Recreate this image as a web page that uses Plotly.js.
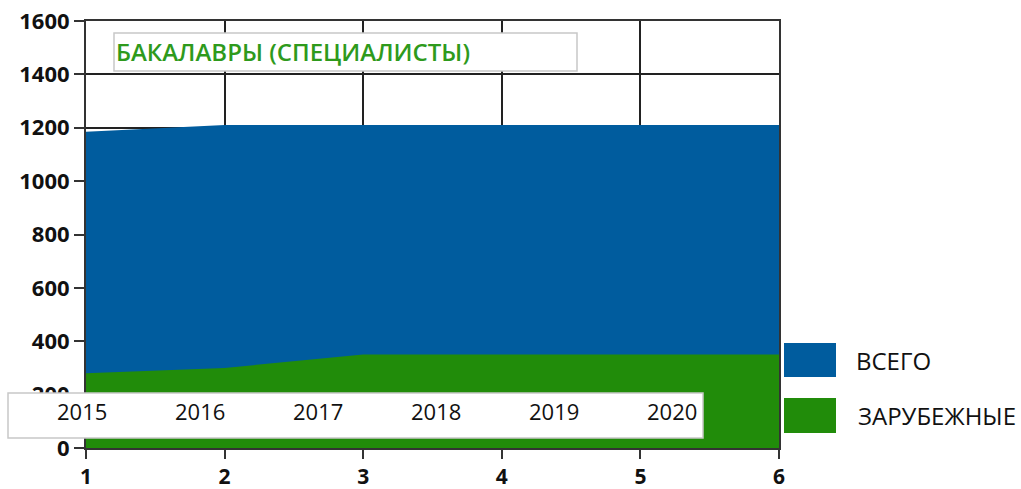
<!DOCTYPE html>
<html>
<head>
<meta charset="utf-8">
<script src="https://cdn.plot.ly/plotly-3.0.1.min.js"></script>
<style>html,body{margin:0;padding:0;background:#fff;}#chart{width:1021px;height:489px;}</style>
</head>
<body>
<div id="chart"></div>
<script>
// ---- data ----
const xPoints = [1, 2, 3, 4, 5, 6];
const years = ['2015', '2016', '2017', '2018', '2019', '2020'];
const totalValues = [1185, 1210, 1210, 1210, 1210, 1210];
const foreignValues = [280, 300, 350, 350, 350, 350];
const seriesNames = ['ВСЕГО', 'ЗАРУБЕЖНЫЕ'];
const chartTitle = 'БАКАЛАВРЫ (СПЕЦИАЛИСТЫ)';

// ---- layout geometry (pixels) ----
const W = 1021, H = 489;
const L = 86, R = 779, T = 21, B = 448;
const px = x => (x - L) / (R - L);
const py = y => (B - y) / (B - T);

const blue = '#005C9E';
const green = '#218C0A';
const font = 'Open Sans, Noto Sans, DejaVu Sans, sans-serif';

const traces = [
  {x: xPoints, y: totalValues, name: seriesNames[0], type: 'scatter', mode: 'lines',
   fill: 'tozeroy', fillcolor: blue, line: {width: 0, color: blue}, hoverinfo: 'skip'},
  {x: xPoints, y: foreignValues, name: seriesNames[1], type: 'scatter', mode: 'lines',
   fill: 'tozeroy', fillcolor: green, line: {width: 0, color: green}, hoverinfo: 'skip'}
];

const shapes = [];
const annotations = [];

// title box
shapes.push({type: 'rect', xref: 'paper', yref: 'paper', x0: px(114), x1: px(577), y0: py(71), y1: py(33),
  fillcolor: '#fff', line: {color: '#c8c8c8', width: 1.5}, layer: 'above'});
annotations.push({xref: 'paper', yref: 'paper', x: px(114), y: py(52), xanchor: 'left', yanchor: 'middle',
  text: chartTitle, showarrow: false, font: {family: font, size: 24, color: '#2E9A1C', weight: 600}});

// year box
const boxL = 8, boxR = 703;
shapes.push({type: 'rect', xref: 'paper', yref: 'paper', x0: px(boxL), x1: px(boxR), y0: py(438), y1: py(393),
  fillcolor: '#fff', line: {color: '#c8c8c8', width: 1.5}, layer: 'above'});
const firstC = 82, lastC = 672;
years.forEach((yr, i) => {
  const c = firstC + i * (lastC - firstC) / (years.length - 1);
  annotations.push({xref: 'paper', yref: 'paper', x: px(c), y: py(411), xanchor: 'center', yanchor: 'middle',
    text: yr, showarrow: false, font: {family: font, size: 22, color: '#111', weight: 500}});
});

// legend
const legendItems = [
  {name: seriesNames[0], color: blue, y0: 343, y1: 377, tx: 854},
  {name: seriesNames[1], color: green, y0: 398, y1: 433, tx: 856}
];
legendItems.forEach(it => {
  shapes.push({type: 'rect', xref: 'paper', yref: 'paper', x0: px(784), x1: px(836), y0: py(it.y1), y1: py(it.y0),
    fillcolor: it.color, line: {width: 0}, layer: 'above'});
  annotations.push({xref: 'paper', yref: 'paper', x: px(it.tx), y: py((it.y0 + it.y1) / 2), xanchor: 'left', yanchor: 'middle',
    text: it.name, showarrow: false, font: {family: font, size: 24, color: '#111'}});
});

const layout = {
  width: W, height: H,
  margin: {l: L, r: W - R, t: T, b: H - B, pad: 0},
  paper_bgcolor: '#fff', plot_bgcolor: '#fff',
  showlegend: false,
  xaxis: {range: [1, 6], tickvals: xPoints, ticktext: xPoints.map(String),
    showgrid: true, gridcolor: '#222', gridwidth: 2, zeroline: false,
    showline: true, mirror: true, linecolor: '#333', linewidth: 2,
    ticks: 'outside', ticklen: 9, tickwidth: 2, tickcolor: '#333', ticklabelstandoff: 0,
    tickfont: {family: font, size: 21, color: '#111', weight: 700}},
  yaxis: {range: [0, 1600], tickvals: [0, 200, 400, 600, 800, 1000, 1200, 1400, 1600],
    showgrid: true, gridcolor: '#222', gridwidth: 2, zeroline: false,
    showline: true, mirror: true, linecolor: '#333', linewidth: 2,
    ticks: 'outside', ticklen: 10, tickwidth: 2, tickcolor: '#333',
    tickfont: {family: font, size: 22, color: '#111', weight: 700}},
  shapes: shapes,
  annotations: annotations
};

Plotly.newPlot('chart', traces, layout, {displayModeBar: false, staticPlot: true});
</script>
</body>
</html>
